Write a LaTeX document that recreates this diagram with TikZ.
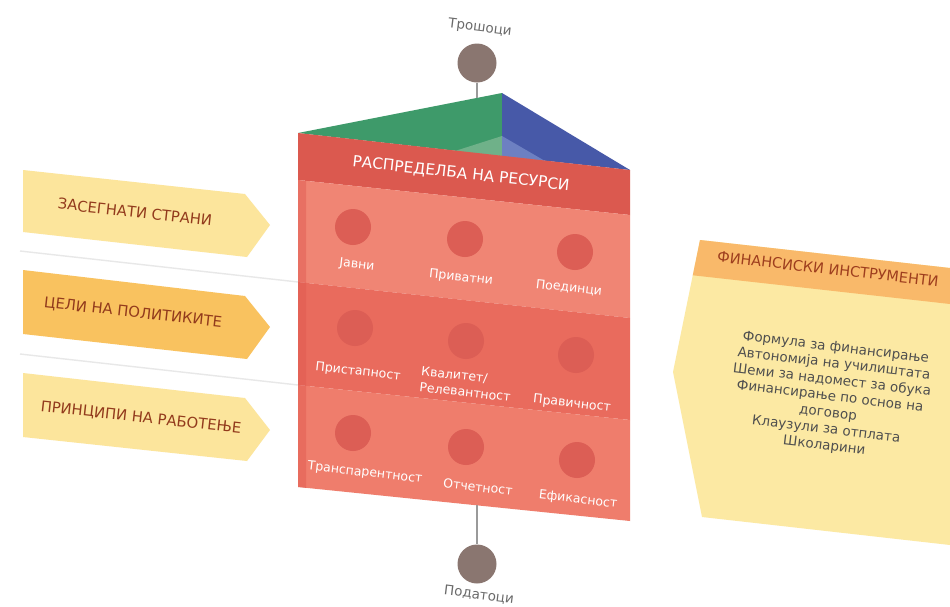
\documentclass[tikz,border=0pt]{standalone}
\usepackage{fontspec}
\setmainfont{DejaVu Sans}
\definecolor{roofgreen}{HTML}{3E9A6A}
\definecolor{roofblue}{HTML}{4759A8}
\definecolor{roofgreenlt}{HTML}{6FB189}
\definecolor{roofbluelt}{HTML}{6D80C2}
\definecolor{hdrred}{HTML}{DB594F}
\definecolor{rowa}{HTML}{F08574}
\definecolor{rowb}{HTML}{E96B5D}
\definecolor{rowc}{HTML}{EF7D6C}
\definecolor{dotred}{HTML}{DC5E55}
\definecolor{edgered}{HTML}{E0584F}
\definecolor{arrowlt}{HTML}{FCE59C}
\definecolor{arrowor}{HTML}{F9C25F}
\definecolor{arrowtxtc}{HTML}{923A1C}
\definecolor{finbody}{HTML}{FCE9A3}
\definecolor{finhdr}{HTML}{F9B96A}
\definecolor{finhdrtxt}{HTML}{9E3E1E}
\definecolor{fintxtc}{HTML}{4F4F4F}
\definecolor{hubc}{HTML}{8A7670}
\definecolor{hubtxtc}{HTML}{6A6A6A}
\definecolor{sepc}{HTML}{E8E8E8}
\definecolor{connc}{HTML}{9A9A9A}
\begin{document}
\begin{tikzpicture}[x=1pt,y=-1pt,
  lbl/.style={text=white,font=\fontsize{12.5}{14}\selectfont,rotate=-6.3,inner sep=0pt},
  lbltwo/.style={lbl,align=left,font=\fontsize{12.5}{16}\selectfont},
  dot/.style={circle,fill=dotred,minimum size=36pt,inner sep=0pt},
  arrowtxt/.style={text=arrowtxtc,font=\fontsize{14.8}{16}\selectfont,rotate=-6.3,inner sep=0pt},
  hdrtxt/.style={text=white,font=\fontsize{15.4}{17}\selectfont,rotate=-6.3,inner sep=0pt},
  finhdrstyle/.style={text=finhdrtxt,font=\fontsize{14.5}{16}\selectfont,rotate=-6.5,inner sep=0pt},
  fintxt/.style={text=fintxtc,font=\fontsize{13.5}{16.5}\selectfont,rotate=-6.8,align=center,inner sep=0pt},
  hub/.style={circle,fill=hubc,minimum size=39pt,inner sep=0pt},
  hubtxt/.style={text=hubtxtc,font=\fontsize{13.5}{15}\selectfont,rotate=-7,inner sep=0pt},
  conn/.style={draw=connc,line width=1.3pt},
  sepline/.style={draw=sepc,line width=1.4pt}]
\useasboundingbox (0,0) rectangle (950,606);
\fill[white] (0,0) rectangle (950,606);
% separators
\coordinate (s1a) at (20,251); \coordinate (s1b) at (298,282);
\coordinate (s2a) at (20,354); \coordinate (s2b) at (298,385);
\draw[sepline] (s1a) -- (s1b);
\draw[sepline] (s2a) -- (s2b);
% roof
\fill[roofgreen] (298,133) -- (502,93) -- (502,156) -- cycle;
\fill[roofblue] (502,93) -- (630,170) -- (502,156) -- cycle;
\fill[roofgreenlt] (455,151) -- (502,136) -- (502,156) -- cycle;
\fill[roofbluelt] (502,136) -- (545,161) -- (502,156) -- cycle;
% block
\fill[hdrred] (298,133) -- (630,170) -- (630,215) -- (298,180) -- cycle;
\fill[rowa] (298,180) -- (630,215) -- (630,318) -- (298,282) -- cycle;
\fill[rowb] (298,282) -- (630,318) -- (630,420) -- (298,385) -- cycle;
\fill[rowc] (298,385) -- (630,420) -- (630,521) -- (298,487) -- cycle;
\fill[edgered,opacity=0.45] (298,180) -- (306,181) -- (306,488) -- (298,487) -- cycle;
% hubs
\node[hub] (trosh) at (477,63) {};
\node[hubtxt] (troshl) at (480,28) {Трошоци};
\coordinate (roofhit) at (477,98);
\draw[conn] (trosh) -- (roofhit);
\node[hub] (podat) at (477,564) {};
\node[hubtxt] (podatl) at (479,595) {Податоци};
\coordinate (basehit) at (477,505);
\draw[conn] (basehit) -- (podat);
% header text
\node[hdrtxt] (hdr) at (461,174) {РАСПРЕДЕЛБА НА РЕСУРСИ};
% dots
\node[dot] (d11) at (353,227) {};
\node[dot] (d12) at (465,239) {};
\node[dot] (d13) at (575,252) {};
\node[dot] (d21) at (355,328) {};
\node[dot] (d22) at (466,341) {};
\node[dot] (d23) at (576,355) {};
\node[dot] (d31) at (353,433) {};
\node[dot] (d32) at (466,447) {};
\node[dot] (d33) at (577,460) {};
% labels
\node[lbl] (l11) at (357,265) {Јавни};
\node[lbl] (l12) at (461,278) {Приватни};
\node[lbl] (l13) at (569,288) {Поединци};
\node[lbl] (l21) at (358,372) {Пристапност};
\node[lbltwo] (l22) at (466,384) {Квалитет/\\Релевантност};
\node[lbl] (l23) at (572,404) {Правичност};
\node[lbl] (l31) at (365,473) {Транспарентност};
\node[lbl] (l32) at (478,487) {Отчетност};
\node[lbl] (l33) at (578,500) {Ефикасност};
% left arrows
\fill[arrowlt] (23,170) -- (245,194) -- (270,225) -- (247,257) -- (23,232) -- cycle;
\fill[arrowor] (23,270) -- (245,296) -- (270,327) -- (247,359) -- (23,334) -- cycle;
\fill[arrowlt] (23,373) -- (245,398) -- (270,430) -- (247,461) -- (23,437) -- cycle;
\node[arrowtxt] (a1) at (135,212) {ЗАСЕГНАТИ СТРАНИ};
\node[arrowtxt] (a2) at (133,313) {ЦЕЛИ НА ПОЛИТИКИТЕ};
\node[arrowtxt] (a3) at (141,418) {ПРИНЦИПИ НА РАБОТЕЊЕ};
% right panel
\fill[finbody] (700,240) -- (950,268) -- (950,545) -- (702,517) -- (673,372) -- cycle;
\begin{scope}
\clip (700,240) -- (950,268) -- (950,545) -- (702,517) -- (673,372) -- cycle;
\fill[finhdr] (650,200) -- (950,200) -- (950,304) -- (650,270.5) -- cycle;
\end{scope}
\node[finhdrstyle] (fh) at (828,269) {ФИНАНСИСКИ ИНСТРУМЕНТИ};
\node[fintxt] (ft) at (830,397) {Формула за финансирање\\Автономија на училиштата\\Шеми за надомест за обука\\Финансирање по основ на\\договор\\Клаузули за отплата\\Школарини};
\end{tikzpicture}
\end{document}
